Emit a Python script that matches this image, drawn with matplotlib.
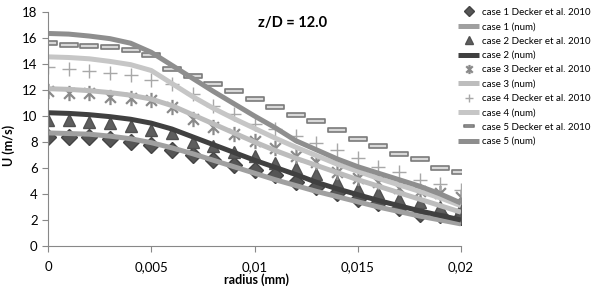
import matplotlib
matplotlib.use("Agg")
import matplotlib.pyplot as plt
import numpy as np
from matplotlib.path import Path
from matplotlib.ticker import FuncFormatter, MultipleLocator

plt.rcParams['font.family'] = ['Lato', 'DejaVu Sans']

radius = [0.000, 0.001, 0.002, 0.003, 0.004, 0.005, 0.006, 0.007, 0.008, 0.009, 0.010,
          0.011, 0.012, 0.013, 0.014, 0.015, 0.016, 0.017, 0.018, 0.019, 0.020]

case1_exp = [8.4, 8.4, 8.35, 8.2, 8.0, 7.8, 7.4, 7.0, 6.6, 6.2, 5.85,
             5.45, 4.95, 4.55, 4.05, 3.6, 3.3, 2.9, 2.5, 2.4, 2.2]
case1_num = [8.7, 8.65, 8.6, 8.45, 8.25, 7.95, 7.55, 7.1, 6.6, 6.1, 5.6,
             5.1, 4.65, 4.2, 3.8, 3.4, 3.0, 2.65, 2.3, 2.0, 1.7]
case2_exp = [9.7, 9.7, 9.55, 9.5, 9.2, 8.9, 8.7, 8.0, 7.7, 7.25, 6.9,
             6.4, 6.0, 5.55, 4.95, 4.4, 4.1, 3.65, 3.4, 3.0, 2.9]
case2_num = [10.25, 10.2, 10.1, 9.95, 9.75, 9.45, 9.0, 8.4, 7.8, 7.2, 6.6,
             6.05, 5.5, 4.9, 4.4, 3.95, 3.5, 3.1, 2.7, 2.35, 2.0]
case3_exp = [11.9, 11.8, 11.8, 11.5, 11.35, 11.2, 10.7, 9.8, 9.15, 8.6, 8.05,
             7.55, 6.95, 6.5, 5.7, 5.2, 4.95, 4.45, 4.2, 4.1, 3.8]
case3_num = [12.1, 12.05, 11.95, 11.8, 11.6, 11.3, 10.8, 10.1, 9.4, 8.7, 8.0,
             7.35, 6.75, 6.2, 5.65, 5.1, 4.6, 4.1, 3.6, 3.1, 2.6]
case4_exp = [13.8, 13.6, 13.5, 13.3, 13.15, 12.8, 12.5, 11.7, 10.8, 10.15, 9.4,
             9.0, 8.5, 7.9, 7.4, 6.75, 6.1, 5.7, 5.1, 4.8, 4.3]
case4_num = [14.55, 14.5, 14.4, 14.2, 13.95, 13.5, 12.5, 11.5, 10.6, 9.8, 9.05,
             8.3, 7.6, 6.95, 6.3, 5.75, 5.2, 4.7, 4.2, 3.7, 3.1]
case5_exp = [15.6, 15.5, 15.4, 15.3, 15.1, 14.7, 13.6, 13.1, 12.5, 11.95, 11.3,
             10.7, 10.1, 9.6, 8.9, 8.25, 7.7, 7.1, 6.7, 6.0, 5.7]
case5_num = [16.35, 16.3, 16.15, 15.95, 15.6, 14.9, 13.9, 12.9, 11.9, 10.95, 10.0,
             9.1, 8.1, 7.4, 6.7, 6.1, 5.6, 5.1, 4.6, 4.0, 3.3]

labels_exp = ["case 1 Decker et al. 2010", "case 2 Decker et al. 2010",
              "case 3 Decker et al. 2010", "case 4 Decker et al. 2010",
              "case 5 Decker et al. 2010"]
labels_num = ["case 1 (num)", "case 2 (num)", "case 3 (num)", "case 4 (num)", "case 5 (num)"]

# custom markers
d = np.sqrt(0.5)
star = Path([(-d, -d), (d, d), (-d, d), (d, -d), (0, -1), (0, 1)],
            [Path.MOVETO, Path.LINETO, Path.MOVETO, Path.LINETO, Path.MOVETO, Path.LINETO])
dash = Path([(-1, -0.25), (1, -0.25), (1, 0.25), (-1, 0.25), (-1, -0.25)],
            [Path.MOVETO, Path.LINETO, Path.LINETO, Path.LINETO, Path.CLOSEPOLY])

fig = plt.figure(figsize=(5.93, 2.91), dpi=100)
ax = fig.add_axes([48/593, 45/291, 413/593, 234/291])

exp_styles = [
    dict(marker='D', markersize=8, color='#555555', markeredgecolor='#444444'),
    dict(marker='^', markersize=9, color='#5e5e5e', markeredgecolor='#505050'),
    dict(marker=star, markersize=11, color='#8a8a8a', markeredgewidth=1.6, fillstyle='none'),
    dict(marker='+', markersize=10, color='#a8a8a8', markeredgewidth=1.0),
    dict(marker=dash, markersize=13, markerfacecolor='#d8d8d8', markeredgecolor='#7a7a7a',
         markeredgewidth=1.2, color='#888888'),
]
num_colors = ['#a0a0a0', '#404040', '#bdbdbd', '#c6c6c6', '#8e8e8e']

exps = [case1_exp, case2_exp, case3_exp, case4_exp, case5_exp]
nums = [case1_num, case2_num, case3_num, case4_num, case5_num]
handles = []
for i in range(5):
    h1, = ax.plot(radius, exps[i], linestyle='none', label=labels_exp[i], **exp_styles[i])
    h2, = ax.plot(radius, nums[i], color=num_colors[i], linewidth=3.6,
                  solid_capstyle='butt', label=labels_num[i])
    handles += [h1, h2]

ax.set_xlim(0, 0.02)
ax.set_ylim(0, 18)
ax.yaxis.set_major_locator(MultipleLocator(2))
ax.set_xticks([0, 0.005, 0.01, 0.015, 0.02])
ax.xaxis.set_major_formatter(FuncFormatter(lambda v, p: ('%g' % v).replace('.', ',')))
for s in ['top', 'right']:
    ax.spines[s].set_visible(False)
for s in ['left', 'bottom']:
    ax.spines[s].set_color('#888888')
ax.tick_params(axis='both', colors='#888888', labelcolor='black', labelsize=9.5, length=4)
ax.tick_params(axis='x', pad=7)

fig.text(293/593, 1 - 23/291, "z/D = 12.0", ha='center', va='center', fontsize=10.5, fontweight='bold')
fig.text(256/593, 1 - 280/291, "radius (mm)", ha='center', va='center', fontsize=9, fontweight='bold')
fig.text(9/593, 1 - 145/291, "U (m/s)", ha='center', va='center', fontsize=9, fontweight='bold', rotation=90)

leg = fig.legend(handles=handles, loc='upper left', bbox_to_anchor=(454/593, 1 - 4/291),
                 frameon=False, fontsize=7, handlelength=2.2, handletextpad=0.3,
                 labelspacing=0.55, borderaxespad=0, markerscale=0.6)

fig.savefig("out.png", dpi=100)
